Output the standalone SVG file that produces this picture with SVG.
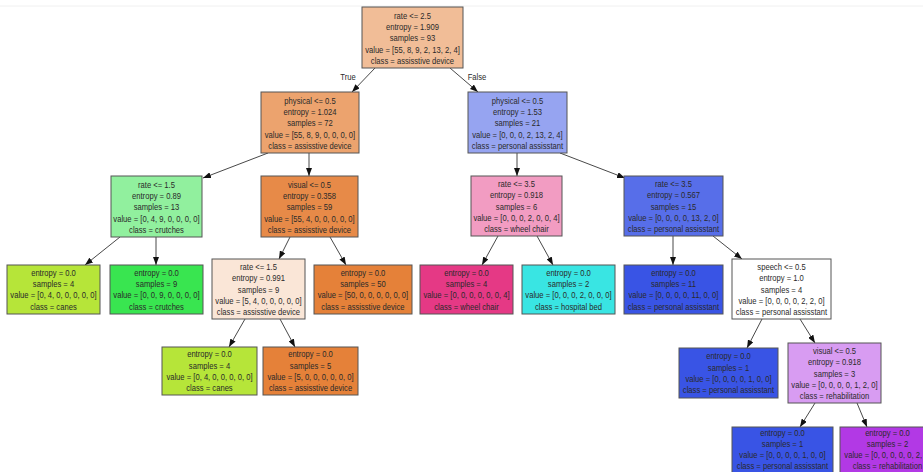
<svg xmlns="http://www.w3.org/2000/svg" width="923" height="472" viewBox="0 0 923 472">
<defs>
<marker id="ah" markerUnits="userSpaceOnUse" markerWidth="8" markerHeight="6" refX="8" refY="3" orient="auto">
<path d="M0,0 L8,3 L0,6 z" fill="#111"/>
</marker>
<style>
.b{stroke:#555;stroke-width:1}
.t{font-family:"Liberation Sans",Arial,sans-serif;font-size:9.3px;fill:#2a2a2a;text-anchor:middle}
.e{stroke:#333;stroke-width:0.9;fill:none;marker-end:url(#ah)}
</style>
</defs>
<rect width="923" height="472" fill="#fff"/>
<line x1="0" y1="6" x2="923" y2="6" stroke="#f0f0f0" stroke-width="1"/>
<g id="connectors">
<line class="e" x1="375" y1="68" x2="352" y2="92"/>
<line class="e" x1="450" y1="68" x2="478" y2="92"/>
<line class="e" x1="268" y1="153" x2="203" y2="178"/>
<line class="e" x1="309" y1="153" x2="309" y2="176"/>
<line class="e" x1="517" y1="153" x2="517" y2="176"/>
<line class="e" x1="560" y1="153" x2="625" y2="178"/>
<line class="e" x1="120" y1="237" x2="85" y2="265"/>
<line class="e" x1="156" y1="237" x2="156" y2="265"/>
<line class="e" x1="290" y1="237" x2="279" y2="259"/>
<line class="e" x1="330" y1="237" x2="346" y2="265"/>
<line class="e" x1="498" y1="236" x2="482" y2="265"/>
<line class="e" x1="537" y1="236" x2="553" y2="265"/>
<line class="e" x1="673" y1="236" x2="673" y2="265"/>
<line class="e" x1="713" y1="236" x2="742" y2="259"/>
<line class="e" x1="245" y1="319" x2="229" y2="347"/>
<line class="e" x1="280" y1="319" x2="295" y2="347"/>
<line class="e" x1="762" y1="319" x2="747" y2="348"/>
<line class="e" x1="800" y1="319" x2="815" y2="343"/>
<line class="e" x1="815" y1="403" x2="800" y2="427"/>
<line class="e" x1="857" y1="403" x2="867" y2="427"/>
<text class="t" transform="matrix(0.82,0,0,1,62.64,0)" x="348" y="80">True</text>
<text class="t" transform="matrix(0.82,0,0,1,85.86,0)" x="477" y="80">False</text>
</g>
<g id="n0"><rect class="b" x="362" y="7" width="101" height="61" fill="#f1bd97"/>
<g transform="matrix(0.82,0,0,1,74.25,0)"><text class="t" x="412.5" y="18.7">rate &lt;= 2.5</text><text class="t" x="412.5" y="30">entropy = 1.909</text><text class="t" x="412.5" y="41.3">samples = 93</text><text class="t" x="412.5" y="52.6">value = [55, 8, 9, 2, 13, 2, 4]</text><text class="t" x="412.5" y="63.9">class = assisstive device</text></g></g>
<g id="n1"><rect class="b" x="261" y="92" width="98" height="61" fill="#eca36e"/>
<g transform="matrix(0.82,0,0,1,55.8,0)"><text class="t" x="310" y="103.7">physical &lt;= 0.5</text><text class="t" x="310" y="115">entropy = 1.024</text><text class="t" x="310" y="126.3">samples = 72</text><text class="t" x="310" y="137.6">value = [55, 8, 9, 0, 0, 0, 0]</text><text class="t" x="310" y="148.9">class = assisstive device</text></g></g>
<g id="n2"><rect class="b" x="468" y="92" width="99" height="61" fill="#96a4f1"/>
<g transform="matrix(0.82,0,0,1,93.15,0)"><text class="t" x="517.5" y="103.7">physical &lt;= 0.5</text><text class="t" x="517.5" y="115">entropy = 1.53</text><text class="t" x="517.5" y="126.3">samples = 21</text><text class="t" x="517.5" y="137.6">value = [0, 0, 0, 2, 13, 2, 4]</text><text class="t" x="517.5" y="148.9">class = personal assisstant</text></g></g>
<g id="n3"><rect class="b" x="111" y="176" width="91" height="61" fill="#91f09e"/>
<g transform="matrix(0.82,0,0,1,28.17,0)"><text class="t" x="156.5" y="187.7">rate &lt;= 1.5</text><text class="t" x="156.5" y="199">entropy = 0.89</text><text class="t" x="156.5" y="210.3">samples = 13</text><text class="t" x="156.5" y="221.6">value = [0, 4, 9, 0, 0, 0, 0]</text><text class="t" x="156.5" y="232.9">class = crutches</text></g></g>
<g id="n4"><rect class="b" x="261" y="176" width="97" height="61" fill="#e78a48"/>
<g transform="matrix(0.82,0,0,1,55.71,0)"><text class="t" x="309.5" y="187.7">visual &lt;= 0.5</text><text class="t" x="309.5" y="199">entropy = 0.358</text><text class="t" x="309.5" y="210.3">samples = 59</text><text class="t" x="309.5" y="221.6">value = [55, 4, 0, 0, 0, 0, 0]</text><text class="t" x="309.5" y="232.9">class = assisstive device</text></g></g>
<g id="n5"><rect class="b" x="471" y="176" width="91" height="60" fill="#f29cc2"/>
<g transform="matrix(0.82,0,0,1,92.97,0)"><text class="t" x="516.5" y="187.2">rate &lt;= 3.5</text><text class="t" x="516.5" y="198.5">entropy = 0.918</text><text class="t" x="516.5" y="209.8">samples = 6</text><text class="t" x="516.5" y="221.1">value = [0, 0, 0, 2, 0, 0, 4]</text><text class="t" x="516.5" y="232.4">class = wheel chair</text></g></g>
<g id="n6"><rect class="b" x="624" y="176" width="99" height="60" fill="#576ee9"/>
<g transform="matrix(0.82,0,0,1,121.23,0)"><text class="t" x="673.5" y="187.2">rate &lt;= 3.5</text><text class="t" x="673.5" y="198.5">entropy = 0.567</text><text class="t" x="673.5" y="209.8">samples = 15</text><text class="t" x="673.5" y="221.1">value = [0, 0, 0, 0, 13, 2, 0]</text><text class="t" x="673.5" y="232.4">class = personal assisstant</text></g></g>
<g id="n7"><rect class="b" x="7" y="265" width="93" height="49" fill="#b6e539"/>
<g transform="matrix(0.82,0,0,1,9.63,0)"><text class="t" x="53.5" y="275.9">entropy = 0.0</text><text class="t" x="53.5" y="287.2">samples = 4</text><text class="t" x="53.5" y="298.5">value = [0, 4, 0, 0, 0, 0, 0]</text><text class="t" x="53.5" y="309.8">class = canes</text></g></g>
<g id="n8"><rect class="b" x="110" y="265" width="93" height="49" fill="#39e550"/>
<g transform="matrix(0.82,0,0,1,28.17,0)"><text class="t" x="156.5" y="275.9">entropy = 0.0</text><text class="t" x="156.5" y="287.2">samples = 9</text><text class="t" x="156.5" y="298.5">value = [0, 0, 9, 0, 0, 0, 0]</text><text class="t" x="156.5" y="309.8">class = crutches</text></g></g>
<g id="n9"><rect class="b" x="212" y="259" width="93" height="60" fill="#fae6d7"/>
<g transform="matrix(0.82,0,0,1,46.53,0)"><text class="t" x="258.5" y="270.2">rate &lt;= 1.5</text><text class="t" x="258.5" y="281.5">entropy = 0.991</text><text class="t" x="258.5" y="292.8">samples = 9</text><text class="t" x="258.5" y="304.1">value = [5, 4, 0, 0, 0, 0, 0]</text><text class="t" x="258.5" y="315.4">class = assisstive device</text></g></g>
<g id="n10"><rect class="b" x="314" y="265" width="98" height="49" fill="#e58139"/>
<g transform="matrix(0.82,0,0,1,65.34,0)"><text class="t" x="363" y="275.9">entropy = 0.0</text><text class="t" x="363" y="287.2">samples = 50</text><text class="t" x="363" y="298.5">value = [50, 0, 0, 0, 0, 0, 0]</text><text class="t" x="363" y="309.8">class = assisstive device</text></g></g>
<g id="n11"><rect class="b" x="420" y="265" width="93" height="49" fill="#e53985"/>
<g transform="matrix(0.82,0,0,1,83.97,0)"><text class="t" x="466.5" y="275.9">entropy = 0.0</text><text class="t" x="466.5" y="287.2">samples = 4</text><text class="t" x="466.5" y="298.5">value = [0, 0, 0, 0, 0, 0, 4]</text><text class="t" x="466.5" y="309.8">class = wheel chair</text></g></g>
<g id="n12"><rect class="b" x="522" y="265" width="93" height="49" fill="#39e5e3"/>
<g transform="matrix(0.82,0,0,1,102.33,0)"><text class="t" x="568.5" y="275.9">entropy = 0.0</text><text class="t" x="568.5" y="287.2">samples = 2</text><text class="t" x="568.5" y="298.5">value = [0, 0, 0, 2, 0, 0, 0]</text><text class="t" x="568.5" y="309.8">class = hospital bed</text></g></g>
<g id="n13"><rect class="b" x="624" y="265" width="99" height="49" fill="#3954e5"/>
<g transform="matrix(0.82,0,0,1,121.23,0)"><text class="t" x="673.5" y="275.9">entropy = 0.0</text><text class="t" x="673.5" y="287.2">samples = 11</text><text class="t" x="673.5" y="298.5">value = [0, 0, 0, 0, 11, 0, 0]</text><text class="t" x="673.5" y="309.8">class = personal assisstant</text></g></g>
<g id="n14"><rect class="b" x="732" y="259" width="99" height="60" fill="#ffffff"/>
<g transform="matrix(0.82,0,0,1,140.67,0)"><text class="t" x="781.5" y="270.2">speech &lt;= 0.5</text><text class="t" x="781.5" y="281.5">entropy = 1.0</text><text class="t" x="781.5" y="292.8">samples = 4</text><text class="t" x="781.5" y="304.1">value = [0, 0, 0, 0, 2, 2, 0]</text><text class="t" x="781.5" y="315.4">class = personal assisstant</text></g></g>
<g id="n15"><rect class="b" x="162" y="347" width="95" height="48" fill="#b6e539"/>
<g transform="matrix(0.82,0,0,1,37.71,0)"><text class="t" x="209.5" y="357.4">entropy = 0.0</text><text class="t" x="209.5" y="368.7">samples = 4</text><text class="t" x="209.5" y="380">value = [0, 4, 0, 0, 0, 0, 0]</text><text class="t" x="209.5" y="391.3">class = canes</text></g></g>
<g id="n16"><rect class="b" x="263" y="347" width="95" height="48" fill="#e58139"/>
<g transform="matrix(0.82,0,0,1,55.89,0)"><text class="t" x="310.5" y="357.4">entropy = 0.0</text><text class="t" x="310.5" y="368.7">samples = 5</text><text class="t" x="310.5" y="380">value = [5, 0, 0, 0, 0, 0, 0]</text><text class="t" x="310.5" y="391.3">class = assisstive device</text></g></g>
<g id="n17"><rect class="b" x="679" y="348" width="99" height="50" fill="#3954e5"/>
<g transform="matrix(0.82,0,0,1,131.13,0)"><text class="t" x="728.5" y="359.4">entropy = 0.0</text><text class="t" x="728.5" y="370.7">samples = 1</text><text class="t" x="728.5" y="382">value = [0, 0, 0, 0, 1, 0, 0]</text><text class="t" x="728.5" y="393.3">class = personal assisstant</text></g></g>
<g id="n18"><rect class="b" x="788" y="343" width="93" height="60" fill="#d89cf2"/>
<g transform="matrix(0.82,0,0,1,150.21,0)"><text class="t" x="834.5" y="354.2">visual &lt;= 0.5</text><text class="t" x="834.5" y="365.5">entropy = 0.918</text><text class="t" x="834.5" y="376.8">samples = 3</text><text class="t" x="834.5" y="388.1">value = [0, 0, 0, 0, 1, 2, 0]</text><text class="t" x="834.5" y="399.4">class = rehabilitation</text></g></g>
<g id="n19"><rect class="b" x="732" y="427" width="101" height="50" fill="#3954e5"/>
<g transform="matrix(0.82,0,0,1,140.85,0)"><text class="t" x="782.5" y="435.8">entropy = 0.0</text><text class="t" x="782.5" y="446.9">samples = 1</text><text class="t" x="782.5" y="458.2">value = [0, 0, 0, 0, 1, 0, 0]</text><text class="t" x="782.5" y="469.3">class = personal assisstant</text></g></g>
<g id="n20"><rect class="b" x="840" y="427" width="95" height="50" fill="#b239e5"/>
<g transform="matrix(0.82,0,0,1,159.75,0)"><text class="t" x="887.5" y="435.8">entropy = 0.0</text><text class="t" x="887.5" y="446.9">samples = 2</text><text class="t" x="887.5" y="458.2">value = [0, 0, 0, 0, 0, 2, 0]</text><text class="t" x="887.5" y="469.3">class = rehabilitation</text></g></g>
</svg>
